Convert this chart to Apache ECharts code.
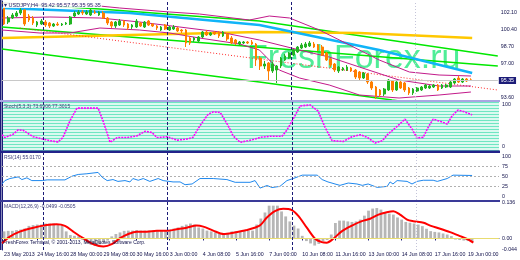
<!DOCTYPE html>
<html><head><meta charset="utf-8">
<script src="https://cdn.jsdelivr.net/npm/echarts@6/dist/echarts.min.js"></script>
<style>html,body{margin:0;padding:0;background:#fff}#c{width:520px;height:260px}</style>
</head><body><div id="c"></div><script>
// ---------- DATA ----------
const timeLabels = ['23 May 2013','24 May 16:00','28 May 00:00','29 May 08:00','30 May 16:00','3 Jun 00:00','4 Jun 08:00','5 Jun 16:00','7 Jun 00:00','10 Jun 08:00','11 Jun 16:00','13 Jun 00:00','14 Jun 08:00','17 Jun 16:00','19 Jun 00:00'];
const priceTickLabels = ['102.10','100.40','98.70','97.00','93.60'];
const lastPrice = 95.35;
const stochTickLabels = ['100','0'];
const rsiTickLabels = ['100','75','50','25','0'];
const rsiLevels = [75, 50, 25];
const macdTickLabels = ['0.136','0.00','-0.044'];
const separatorBars = [10, 40, 70];
const lightSeparatorBars = [100];

const opens = [102.7,101.2,101.6,101.8,102.1,102.4,101.8,101.6,100.9,101.0,
101.2,101.1,100.8,101.0,100.9,101.0,101.0,101.8,102.0,102.2,
102.0,101.9,102.2,101.9,102.1,101.6,101.2,100.8,100.9,101.3,
101.0,100.7,100.7,101.1,100.7,101.3,101.0,100.8,100.4,100.9,
100.4,100.5,100.6,100.4,100.4,99.6,99.4,99.3,99.7,100.2,
99.9,100.2,100.2,99.8,100.0,99.6,99.4,99.0,99.1,99.2,
99.2,99.0,97.6,96.8,97.1,96.3,96.4,96.8,97.4,97.6,
97.9,98.2,98.6,98.7,98.8,99.0,98.9,98.7,98.1,97.5,
97.0,96.3,96.4,96.4,96.6,96.4,96.2,95.6,96.0,95.2,
94.7,94.4,94.0,94.4,95.3,94.4,95.2,95.1,94.6,94.1,
94.3,94.4,94.6,94.6,94.7,94.9,94.6,94.7,94.7,95.1,
95.6,95.2,95.5,95.42];
const closes = [101.0,101.6,101.9,102.1,102.4,101.0,101.4,101.1,101.2,101.3,
100.9,100.8,101.0,100.9,101.0,101.1,101.7,102.1,102.2,102.1,
102.2,102.4,102.1,102.2,101.6,101.1,100.8,101.2,101.3,100.9,
100.6,100.9,101.3,100.8,101.2,100.9,100.8,100.6,100.7,100.5,
100.7,100.7,100.3,100.3,99.1,99.1,99.6,99.7,100.2,99.9,
100.1,100.0,99.8,100.2,99.5,99.1,99.1,99.2,99.2,99.1,
99.0,97.4,96.8,97.0,96.3,97.0,96.8,97.6,97.8,98.1,
98.4,98.7,98.9,99.0,99.1,98.7,98.4,97.9,97.4,96.9,
96.4,96.7,96.6,96.7,96.3,95.7,95.6,96.1,95.2,94.6,
93.8,93.9,94.5,95.4,94.4,95.2,94.6,94.4,94.1,94.5,
94.6,94.7,94.9,94.8,94.9,94.4,94.9,94.9,95.2,95.5,
95.2,95.5,95.3,95.35];
const lows = [100.9,101.0,101.5,101.7,101.9,100.8,101.2,100.9,100.7,100.9,
100.7,100.6,100.7,100.8,100.8,100.9,100.9,101.7,101.9,101.9,
101.9,101.8,102.0,101.8,101.5,100.9,100.6,100.6,100.8,100.7,
100.4,100.5,100.6,100.7,100.6,100.8,100.7,100.4,100.3,100.4,
100.3,100.4,100.2,100.1,98.7,98.9,99.2,99.1,99.6,99.8,
99.8,99.9,99.6,99.7,99.3,99.0,98.9,98.9,99.0,99.0,
98.9,96.8,96.4,96.5,95.4,96.1,95.1,96.6,97.3,97.5,
97.8,98.1,98.5,98.6,98.7,98.6,98.3,97.8,97.3,96.7,
96.2,96.1,96.3,96.3,96.2,95.5,95.4,95.5,95.0,94.4,
93.5,93.7,93.8,94.3,94.2,94.3,94.5,94.2,93.9,93.9,
94.2,94.3,94.5,94.5,94.6,94.3,94.5,94.6,94.6,95.0,
95.1,95.1,95.2,95.35];
const highs = [102.9,101.8,102.1,102.3,102.6,102.5,102.0,101.8,101.3,101.5,
101.4,101.2,101.1,101.2,101.1,101.2,101.8,102.3,102.4,102.4,
102.4,102.5,102.4,102.3,102.3,101.7,101.3,101.3,101.5,101.4,
101.1,101.0,101.5,101.2,101.3,101.4,101.1,100.9,100.8,101.0,
100.8,100.9,100.7,100.5,100.5,99.8,99.7,99.8,100.3,100.4,
100.2,100.3,100.3,100.3,100.1,99.8,99.5,99.3,99.3,99.3,
99.4,99.1,97.8,97.3,97.2,97.2,96.9,97.7,98.0,98.2,
98.5,98.8,99.1,99.2,99.3,99.2,99.0,98.9,98.2,97.6,
97.1,96.8,96.7,96.9,96.7,96.5,96.3,96.2,96.1,95.3,
94.8,94.5,94.6,95.5,95.4,95.3,95.3,95.2,94.7,94.6,
94.7,94.8,95.0,94.9,95.0,95.0,95.0,95.0,95.3,95.6,
95.8,95.6,95.6,95.57];

// overlay lines: [bar position, price]
const bbUpper = [[0,103.1],[9.2,102.9],[18.8,103.0],[28.5,102.6],[40.6,102.2],[47.8,102.0],[59.9,101.4],[64.7,101.8],[69.6,101.6],[76.8,100.4],[84.1,98.9],[91.3,97.4],[98.6,96.2],[105.8,95.9],[113.5,95.8]];
const bbMiddle = [[0,101.6],[11.6,101.7],[23.7,101.6],[33.3,101.2],[43,100.7],[52.7,100.2],[62.3,99.4],[72,98.4],[79.2,97.7],[86.5,96.7],[96.1,95.4],[105.8,94.8],[113.5,94.8]];
const bbLower = [[0,100.4],[9.2,100.1],[16.4,100.1],[23.7,100.6],[33.3,100.4],[40.6,100.1],[47.8,99.6],[57.5,99.0],[62.3,98.4],[67.1,96.4],[72,95.6],[79.2,94.9],[86.5,93.9],[96.1,93.6],[105.8,93.9],[113.5,94.2]];
const greenTop = [[0,103.1],[23.7,102.5],[62.3,101.3],[120,97.8]];
const greenMid = [[0,100.7],[120,96.8]];
const greenLow = [[0,98.5],[62.3,95.2],[94.4,93.4],[120,92.0]];
const blueMA = [[0,102.6],[30.9,102.1],[62.3,100.9],[91.3,98.4],[113.8,96.1]];
const goldMA = [[0,99.6],[30.9,99.9],[62.3,100.2],[86.5,100.1],[113.8,99.6]];
const redTrend = [[4.3,100.6],[120,94.4]];

const stochMain = [[0,28.6],[0.7,22],[2.7,30],[3.9,40],[5.1,39],[7.5,24],[9.9,18.6],[11.6,14.7],[13.5,12],[14.7,22],[16.4,61],[18.1,90.7],[20.5,90.7],[23.2,90.7],[24.4,61],[26.1,11],[27.8,22],[30.2,22],[32.6,26],[34.5,36.5],[36.2,34],[37.4,22],[39.9,24],[42.3,16],[44.7,18.6],[46.1,22.5],[47.8,49.6],[49.8,76.7],[51.0,82],[52.7,80.6],[54.6,49.6],[55.8,26],[57.5,11],[59.4,14.7],[61.6,20],[62.3,22.5],[64.7,25],[67.6,25],[68.8,39.5],[70.3,65],[72.0,96],[74.4,98],[76.3,84],[78.0,46],[79.7,14.7],[82.4,13],[84.5,24],[86.5,28.6],[88.2,22.5],[90.1,9.3],[91.8,14.7],[93.2,30],[95.4,48],[97.3,65],[99.0,42],[100.2,21],[101.7,22.5],[102.9,46],[104.1,65],[105.8,60],[107.5,53.5],[108.7,73],[110.1,86],[111.4,83],[113.5,75]];

const rsiValues = [[0,31.7],[0.7,40],[1.9,45],[3.9,49],[4.8,42.5],[6.0,46.7],[7.2,40],[9.7,40],[10.9,41.7],[15.2,41.7],[16.9,50.8],[18.4,55],[20.5,56.7],[23.2,60],[24.2,48],[25.4,40],[26.8,42.5],[28.0,38],[29.7,40],[30.9,36.7],[31.6,45],[32.9,40.8],[34.1,45],[35.7,38],[37.7,45],[38.9,40],[41.3,36.7],[43.0,36.7],[44.2,30],[45.9,31.7],[47.8,45],[51.0,45],[54.3,42.5],[56.3,35.8],[59.9,35.8],[61.1,40],[62.3,21.7],[64.0,28],[65.2,23],[67.1,25.8],[68.8,40],[70.3,45],[72.5,53.3],[76.1,53.3],[77.3,42.5],[78.7,36.7],[80.4,31.7],[81.6,28.3],[83.6,34],[85.7,31.7],[87.0,28.3],[88.4,31.7],[90.6,23.3],[93.0,25.8],[93.7,36.7],[94.4,31.7],[95.4,40],[97.8,38],[99.0,31.7],[100.2,38],[101.7,40.8],[104.1,40.8],[105.1,38],[107.5,45],[108.9,53.3],[113.5,52.5]];

const macdHist = [0.027,0.029,0.029,0.032,0.034,0.038,0.048,0.051,0.053,0.053,
0.057,0.057,0.057,0.053,0.053,0.027,0.013,0.010,0.008,-0.006,
-0.019,-0.025,-0.029,-0.023,-0.015,-0.008,0.008,0.017,0.023,0.029,
0.030,0.030,0.032,0.030,0.030,0.030,0.030,0.030,0.030,0.032,
0.034,0.038,0.042,0.048,0.053,0.057,0.053,0.042,0.038,0.030,
0.027,0.023,0.017,0.017,0.021,0.027,0.027,0.029,0.029,0.030,
0.030,0.053,0.076,0.099,0.125,0.125,0.125,0.103,0.084,0.065,
0.049,0.038,0.010,-0.010,-0.019,-0.027,-0.021,-0.011,-0.006,0.015,
0.059,0.068,0.068,0.065,0.063,0.065,0.072,0.087,0.106,0.114,
0.116,0.110,0.099,0.095,0.091,0.080,0.072,0.063,0.060,0.057,
0.053,0.047,0.037,0.028,0.025,0.023,0.019,0.015,0.009,-0.004,
-0.006,-0.008,-0.010,-0.014];
const macdSignal = [[0,-0.018],[1.9,0.007],[4.3,0.026],[7.6,0.041],[10.8,0.051],[13.2,0.054],[15.2,0.048],[17.2,0.026],[19.6,0.001],[22.1,-0.022],[24.5,-0.031],[26.5,-0.022],[28.5,0.001],[30.5,0.017],[32.5,0.026],[35.0,0.026],[37.4,0.029],[39.8,0.029],[42.2,0.035],[44.6,0.041],[47.0,0.049],[48.6,0.045],[51.0,0.030],[53.5,0.017],[55.9,0.022],[59.1,0.032],[62.3,0.050],[63.9,0.079],[65.9,0.104],[67.9,0.113],[70.0,0.108],[71.6,0.085],[73.6,0.041],[75.6,-0.001],[77.2,-0.014],[78.4,-0.016],[80.0,-0.001],[82.1,0.028],[84.5,0.049],[86.9,0.066],[88.9,0.075],[90.9,0.091],[92.9,0.100],[94.5,0.104],[96.1,0.091],[97.8,0.072],[99.3,0.066],[101.8,0.060],[103.4,0.049],[105.8,0.037],[108.2,0.024],[110.6,0.009],[112.6,-0.004],[113.8,-0.016]];

// ---------- CHART ----------
const N = 120;
const NAVY = '#1c1c78';
const FONT = 'Liberation Sans';
const categories = Array.from({length: N}, (_, i) => (i % 8 === 0 && timeLabels[i / 8]) ? timeLabels[i / 8] : '');
const candleData = opens.map((o, i) => [o, closes[i], lows[i], highs[i]]);
function pickLabel(list, tol) {
  return v => { for (const s of list) { if (Math.abs(v - parseFloat(s)) < tol) return s; } return ''; };
}
const sepMarks = {
  silent: true, symbol: 'none', label: {show: false},
  lineStyle: {color: NAVY, type: [3, 2], width: 1},
  data: separatorBars.map(b => ({xAxis: b})).concat(lightSeparatorBars.map(b => ({xAxis: b, lineStyle: {color: '#c4c4d8', type: [1, 2]}})))
};
const gridBox = [
  {left: 2, right: 21, top: 1, height: 99},
  {left: 2, right: 21, top: 102, height: 48},
  {left: 2, right: 21, top: 153, height: 47},
  {left: 2, right: 21, top: 202, height: 48}
];
const xAxes = [];
gridBox.forEach((g, gi) => {
  const isBottom = gi === 3;
  xAxes.push({
    type: 'category', gridIndex: gi, data: categories, boundaryGap: true,
    axisLine: {show: isBottom, lineStyle: {color: NAVY, width: 1}},
    axisTick: {show: isBottom, interval: 7, alignWithLabel: true, length: 2, lineStyle: {color: NAVY}},
    axisLabel: {show: isBottom, interval: 7, align: 'left', fontSize: 5.3, fontFamily: FONT, color: '#10104a', margin: 2},
    splitLine: {show: false}
  });
  xAxes.push({type: 'value', gridIndex: gi, min: 0, max: N, show: false});
});
const axisLabelStyle = {fontSize: 5.3, fontFamily: FONT, color: '#10104a', margin: 3};
const yAxes = [
  {type: 'value', gridIndex: 0, position: 'right', min: 93.4, max: 103.3, interval: 0.1,
   axisLine: {show: true, lineStyle: {color: NAVY}}, axisTick: {show: false}, splitLine: {show: false},
   axisLabel: Object.assign({formatter: pickLabel(priceTickLabels, 0.01)}, axisLabelStyle)},
  {type: 'value', gridIndex: 1, position: 'right', min: -7, max: 105, interval: 1,
   axisLine: {show: true, lineStyle: {color: NAVY}}, axisTick: {show: false}, splitLine: {show: false},
   axisLabel: Object.assign({formatter: pickLabel(stochTickLabels, 0.01)}, axisLabelStyle)},
  {type: 'value', gridIndex: 1, position: 'right', min: -7, max: 105, interval: 7,
   axisLine: {show: false}, axisTick: {show: false},
   splitLine: {show: true, lineStyle: {color: '#6fe6c2', width: 1.4}},
   axisLabel: {show: false}},
  {type: 'value', gridIndex: 2, position: 'right', min: -7.5, max: 107.5, interval: 2.5,
   axisLine: {show: true, lineStyle: {color: NAVY}}, axisTick: {show: false}, splitLine: {show: false},
   axisLabel: Object.assign({formatter: pickLabel(rsiTickLabels, 0.01)}, axisLabelStyle)},
  {type: 'value', gridIndex: 3, position: 'right', min: -0.044, max: 0.139, interval: 0.001,
   axisLine: {show: true, lineStyle: {color: NAVY}}, axisTick: {show: false}, splitLine: {show: false},
   axisLabel: Object.assign({formatter: pickLabel(macdTickLabels, 0.0004)}, axisLabelStyle)}
];
function overlay(data, color, width, type, extra) {
  return Object.assign({type: 'line', xAxisIndex: 1, yAxisIndex: 0, data: data, showSymbol: false, silent: true,
    lineStyle: {color: color, width: width, type: type || 'solid'}, z: 3}, extra || {});
}
const series = [
  overlay(greenTop, '#00e800', 1.5, 'solid', {markLine: sepMarks}),
  overlay(greenMid, '#00e800', 1.5),
  overlay(greenLow, '#00e800', 1.5),
  overlay(goldMA, '#ffc800', 2.5),
  overlay(blueMA, '#10b4f8', 2.5),
  overlay(redTrend, '#ff2a2a', 1, [1, 2]),
  overlay(bbUpper, '#c21a8a', 1),
  overlay(bbMiddle, '#c21a8a', 1),
  overlay(bbLower, '#c21a8a', 1),
  {type: 'candlestick', xAxisIndex: 0, yAxisIndex: 0, data: candleData, barWidth: 2.2, z: 4,
   itemStyle: {color: '#22b422', color0: '#ff7f00', borderColor: '#22b422', borderColor0: '#ff7f00', borderWidth: 1},
   markLine: {silent: true, symbol: 'none', data: [{yAxis: lastPrice}],
     lineStyle: {color: '#c8c8c8', width: 1, type: 'solid'},
     label: {show: true, position: 'end', formatter: lastPrice.toFixed(2), color: '#ffffff', backgroundColor: NAVY,
       fontSize: 5.3, fontFamily: FONT, padding: [1, 2], distance: 1}}},
  {type: 'line', xAxisIndex: 3, yAxisIndex: 1, data: stochMain, showSymbol: false, silent: true,
   lineStyle: {color: '#ff00ff', width: 1.6, type: [2, 1]}, markLine: sepMarks, z: 4},
  {type: 'line', xAxisIndex: 5, yAxisIndex: 3, data: rsiValues, showSymbol: false, silent: true,
   lineStyle: {color: '#1e88ee', width: 1}, z: 4,
   markLine: {silent: true, symbol: 'none', label: {show: false},
     lineStyle: {color: '#b0b0b0', type: [2, 2], width: 1},
     data: rsiLevels.map(v => ({yAxis: v}))}},
  {type: 'line', xAxisIndex: 5, yAxisIndex: 3, data: [], markLine: sepMarks},
  {type: 'bar', xAxisIndex: 6, yAxisIndex: 4, data: macdHist, barWidth: 2.8, silent: true,
   itemStyle: {color: '#b6b6b6'}, z: 2},
  {type: 'line', xAxisIndex: 7, yAxisIndex: 4, data: macdSignal, showSymbol: false, silent: true, smooth: 0.3,
   lineStyle: {color: '#ff0000', width: 2}, z: 4,
   markLine: {silent: true, symbol: 'none', label: {show: false}, lineStyle: {color: '#e8dc70', width: 1, type: 'solid'},
     data: [{yAxis: 0}]}},
  {type: 'line', xAxisIndex: 7, yAxisIndex: 4, data: [], markLine: sepMarks}
];
const txt = (t, left, top, size, color, bg) => ({text: t, left: left, top: top, padding: bg ? [0, 1] : 0,
  backgroundColor: bg || 'transparent',
  textStyle: {fontSize: size, fontFamily: FONT, color: color, fontWeight: 'normal'}});
const chart = echarts.init(document.getElementById('c'), null, {renderer: 'canvas'});
chart.setOption({
  animation: false,
  backgroundColor: '#ffffff',
  title: [
    txt('\u25BE USDJPY,H4  95.42 95.57 95.35 95.35', 3, 2, 5.5, '#2a2a70', 'rgba(255,255,255,0.85)'),
    txt('Stoch(5,3,3) 73.6906 77.3015', 4, 104, 5, '#40407a'),
    txt('RSI(14) 55.0170', 4, 155, 5, '#40407a'),
    txt('MACD(12,26,9) -0.0499 -0.0505', 4, 204, 5, '#40407a'),
    txt('FreshForex Terminal, \u00A9 2001-2013, MetaQuotes Software Corp.', 3, 240, 5, '#10104a')
  ],
  grid: gridBox,
  xAxis: xAxes,
  yAxis: yAxes,
  series: series,
  graphic: [
    {type: 'text', left: 247, top: 42, z: 1, silent: true,
     style: {text: 'FreshForex.ru', font: '34px "Liberation Sans"', fill: '#3ceb8c', opacity: 0.9}},
    {type: 'rect', left: 0, top: 0, shape: {width: 1.5, height: 250}, style: {fill: NAVY}, z: 20, silent: true},
    {type: 'rect', left: 0, top: 100, shape: {width: 500, height: 2}, style: {fill: '#a9a6e2'}, z: 20, silent: true},
    {type: 'rect', left: 0, top: 150.5, shape: {width: 500, height: 2.5}, style: {fill: '#22228a'}, z: 20, silent: true},
    {type: 'rect', left: 0, top: 200, shape: {width: 500, height: 2}, style: {fill: '#3a3a98'}, z: 20, silent: true}
  ]
});
</script></body></html>
